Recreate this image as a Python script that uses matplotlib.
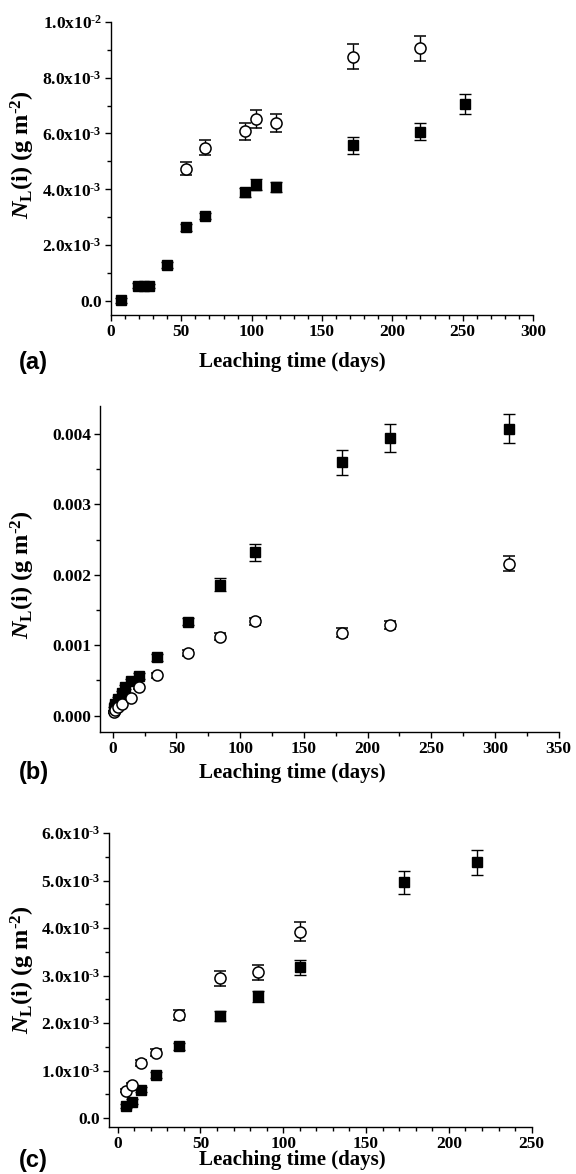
import numpy as np
import matplotlib
matplotlib.use("Agg")
import matplotlib.pyplot as plt
from matplotlib.ticker import MultipleLocator, FuncFormatter

# ---- panel (a)
a_sq_days = [7, 19.5, 23.5, 27, 39.5, 53, 67, 95, 103, 117, 172, 220, 252]
a_sq_vals = [0.02e-3, 0.55e-3, 0.55e-3, 0.54e-3, 1.30e-3, 2.64e-3, 3.04e-3,
             3.89e-3, 4.16e-3, 4.09e-3, 5.57e-3, 6.06e-3, 7.05e-3]
a_sq_err = [0.08e-3, 0.08e-3, 0.08e-3, 0.08e-3, 0.10e-3, 0.12e-3, 0.12e-3,
            0.15e-3, 0.20e-3, 0.18e-3, 0.29e-3, 0.30e-3, 0.35e-3]
a_ci_days = [53, 67, 95, 103, 117, 172, 220]
a_ci_vals = [4.74e-3, 5.49e-3, 6.07e-3, 6.51e-3, 6.38e-3, 8.75e-3, 9.05e-3]
a_ci_err = [0.23e-3, 0.27e-3, 0.30e-3, 0.33e-3, 0.32e-3, 0.45e-3, 0.45e-3]

# ---- panel (b)
b_sq_days = [1, 2, 4, 7, 10, 14, 21, 35, 59, 84, 112, 180, 218, 311]
b_sq_vals = [0.10e-3, 0.17e-3, 0.24e-3, 0.32e-3, 0.41e-3, 0.49e-3, 0.56e-3,
             0.83e-3, 1.33e-3, 1.86e-3, 2.32e-3, 3.60e-3, 3.95e-3, 4.08e-3]
b_sq_err = [0.02e-3, 0.02e-3, 0.02e-3, 0.03e-3, 0.03e-3, 0.03e-3, 0.04e-3,
            0.05e-3, 0.05e-3, 0.095e-3, 0.12e-3, 0.18e-3, 0.20e-3, 0.20e-3]
b_ci_days = [1, 2, 4, 7, 14, 21, 35, 59, 84, 112, 180, 218, 311]
b_ci_vals = [0.05e-3, 0.08e-3, 0.12e-3, 0.17e-3, 0.25e-3, 0.40e-3, 0.57e-3,
             0.89e-3, 1.12e-3, 1.34e-3, 1.18e-3, 1.29e-3, 2.16e-3]
b_ci_err = [0.02e-3, 0.02e-3, 0.02e-3, 0.02e-3, 0.03e-3, 0.03e-3, 0.04e-3,
            0.04e-3, 0.05e-3, 0.05e-3, 0.065e-3, 0.06e-3, 0.11e-3]

# ---- panel (c)
c_sq_days = [5, 9, 14, 23, 37, 62, 85, 110, 173, 217]
c_sq_vals = [0.25e-3, 0.35e-3, 0.60e-3, 0.91e-3, 1.51e-3, 2.15e-3, 2.56e-3,
             3.17e-3, 4.96e-3, 5.38e-3]
c_sq_err = [0.04e-3, 0.05e-3, 0.05e-3, 0.06e-3, 0.07e-3, 0.10e-3, 0.12e-3,
            0.16e-3, 0.25e-3, 0.27e-3]
c_ci_days = [5, 9, 14, 23, 37, 62, 85, 110]
c_ci_vals = [0.58e-3, 0.70e-3, 1.16e-3, 1.38e-3, 2.17e-3, 2.94e-3, 3.07e-3, 3.92e-3]
c_ci_err = [0.04e-3, 0.05e-3, 0.06e-3, 0.07e-3, 0.10e-3, 0.15e-3, 0.16e-3, 0.20e-3]

plt.rcParams["font.family"] = "Liberation Serif"
plt.rcParams["font.weight"] = "bold"
plt.rcParams["mathtext.fontset"] = "custom"
plt.rcParams["mathtext.rm"] = "Liberation Serif:bold"
plt.rcParams["mathtext.bf"] = "Liberation Serif:bold"
plt.rcParams["mathtext.it"] = "Liberation Serif:italic:bold"

W, H = 576, 1174
fig = plt.figure(figsize=(W / 100, H / 100), dpi=100)


def sci_fmt(v, pos):
    if abs(v) < 1e-12:
        return "0.0"
    e = int(np.floor(np.log10(abs(v)) + 1e-9))
    # plain hyphen in the exponent, like the original
    return f"{v / 10**e:.1f}x10$^{{\\text{{{e}}}}}$"


def make_axes(px_left, px_right, px_top, px_bottom):
    ax = fig.add_axes([px_left / W, 1 - px_bottom / H,
                       (px_right - px_left) / W, (px_bottom - px_top) / H])
    for s in ("top", "right"):
        ax.spines[s].set_visible(False)
    for s in ("left", "bottom"):
        ax.spines[s].set_linewidth(1.0)
    ax.tick_params(which="major", direction="out", length=4.5, width=1.0,
                   labelsize=12.5, pad=2)
    ax.tick_params(which="minor", direction="out", length=2.6, width=1.0)
    return ax


def draw(ax, sq_d, sq_v, sq_e, ci_d, ci_v, ci_e):
    ax.errorbar(sq_d, sq_v, yerr=sq_e, fmt="s", color="black", ms=7.5,
                mfc="black", mec="black", ecolor="black", elinewidth=1.0,
                capsize=4.6, capthick=1.0, zorder=3)
    ax.errorbar(ci_d, ci_v, yerr=ci_e, fmt="o", color="black", ms=8,
                mfc="white", mec="black", mew=1.1, ecolor="black",
                elinewidth=1.0, capsize=4.6, capthick=1.0, zorder=4)


def labels(ax_ycenter, xl_y, tag):
    fig.text(23 / W, 1 - ax_ycenter / H,
             r"$N_{\mathrm{L}}$(i) (g m$^{\text{-2}}$)",
             rotation=90, ha="center", va="center", fontsize=17.5)
    fig.text(292 / W, 1 - xl_y / H, "Leaching time (days)",
             ha="center", va="center", fontsize=15)
    fig.text(19 / W, 1 - xl_y / H, tag, ha="left", va="center",
             fontsize=17, family="Liberation Sans", weight="bold")


# (a)
ax = make_axes(111, 533, 21.7, 315)
draw(ax, a_sq_days, a_sq_vals, a_sq_err, a_ci_days, a_ci_vals, a_ci_err)
ax.set_xlim(0, 300)
ax.set_ylim(-0.5e-3, 1.0e-2)
ax.xaxis.set_major_locator(MultipleLocator(50))
ax.xaxis.set_minor_locator(MultipleLocator(10))
ax.yaxis.set_major_locator(MultipleLocator(2e-3))
ax.yaxis.set_minor_locator(MultipleLocator(1e-3))
ax.yaxis.set_major_formatter(FuncFormatter(sci_fmt))
labels(155, 362, "(a)")

# (b)
ax = make_axes(100, 558.6, 406, 731.7)
draw(ax, b_sq_days, b_sq_vals, b_sq_err, b_ci_days, b_ci_vals, b_ci_err)
ax.set_xlim(-10, 350)
ax.set_ylim(-0.00023, 0.0044)
ax.xaxis.set_major_locator(MultipleLocator(50))
ax.xaxis.set_minor_locator(MultipleLocator(25))
ax.yaxis.set_major_locator(MultipleLocator(0.001))
ax.yaxis.set_minor_locator(MultipleLocator(0.0005))
ax.yaxis.set_major_formatter(FuncFormatter(lambda v, p: f"{v:.3f}"))
labels(575, 773, "(b)")

# (c)
ax = make_axes(109.3, 531.7, 833, 1126.7)
draw(ax, c_sq_days, c_sq_vals, c_sq_err, c_ci_days, c_ci_vals, c_ci_err)
ax.set_xlim(-5, 250)
ax.set_ylim(-0.18e-3, 6.0e-3)
ax.xaxis.set_major_locator(MultipleLocator(50))
ax.xaxis.set_minor_locator(MultipleLocator(10))
ax.yaxis.set_major_locator(MultipleLocator(1e-3))
ax.yaxis.set_minor_locator(MultipleLocator(0.5e-3))
ax.yaxis.set_major_formatter(FuncFormatter(sci_fmt))
labels(970, 1160, "(c)")

fig.savefig("out.png", dpi=100)
